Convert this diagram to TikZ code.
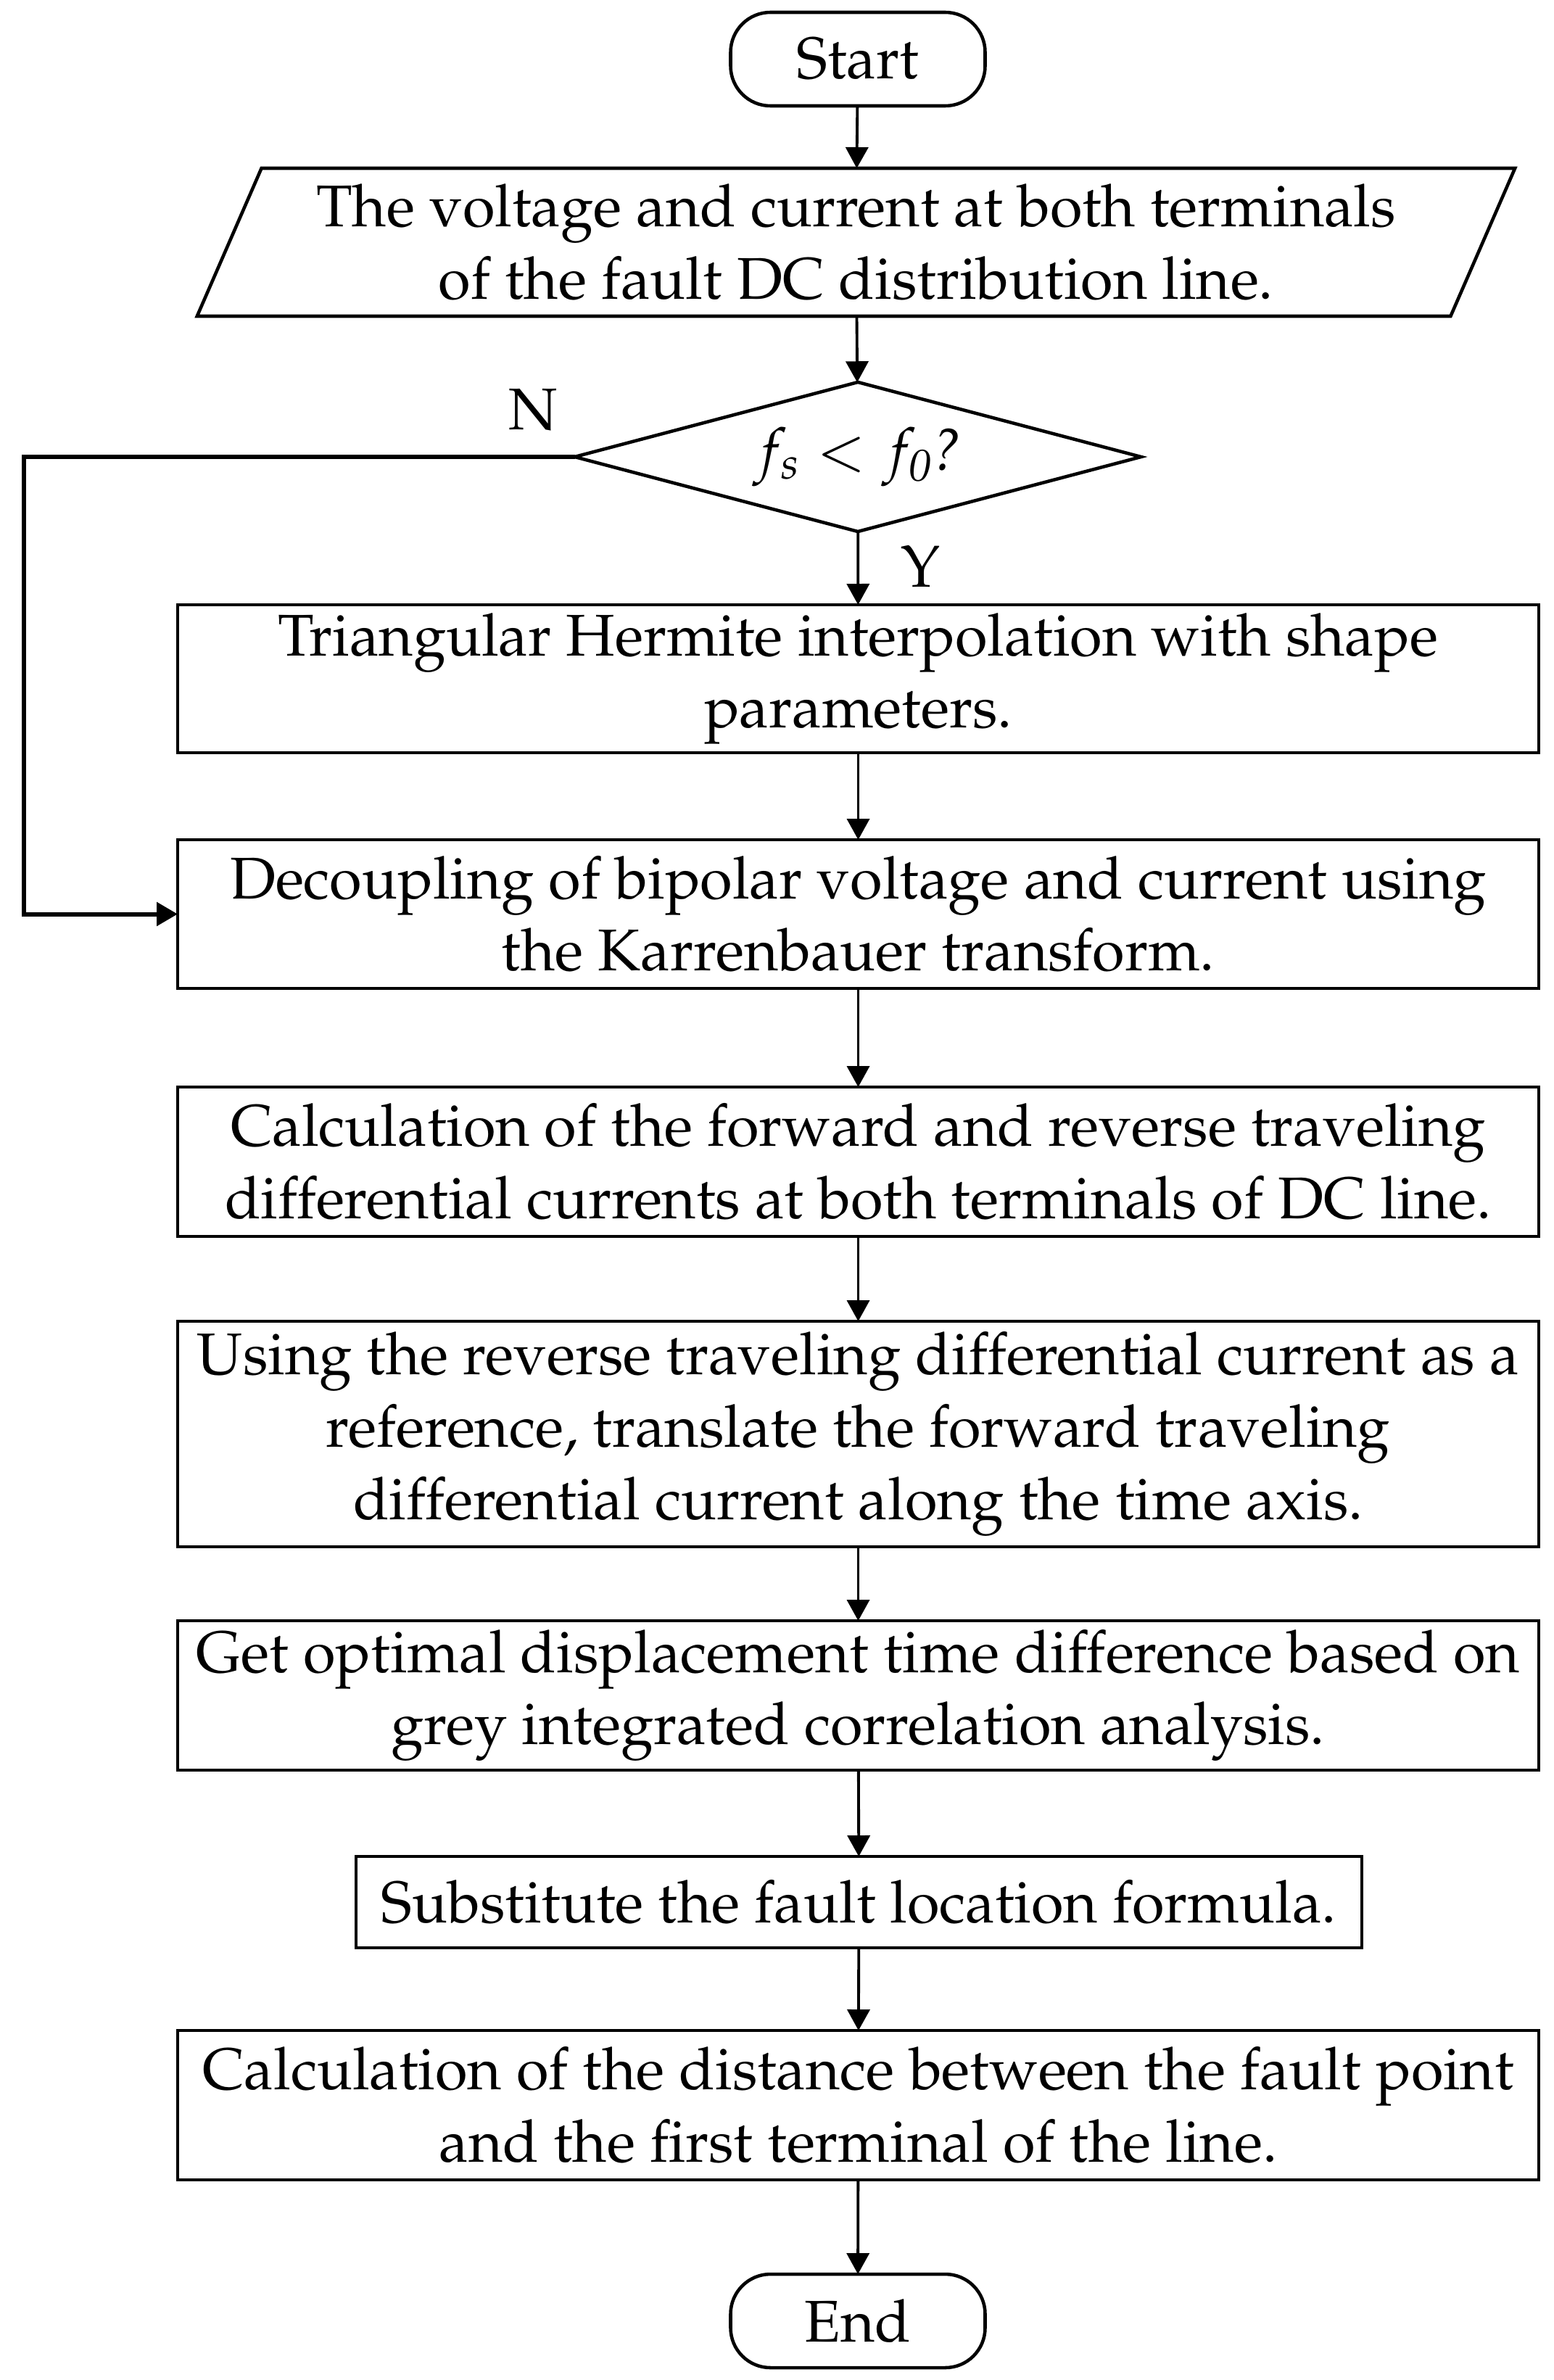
\documentclass[tikz,border=0pt]{standalone}
\usepackage[T1]{fontenc}
\usepackage{mathpazo}
\usetikzlibrary{arrows.meta,shapes.geometric}
\begin{document}
\begin{tikzpicture}[
  every node/.style={inner sep=0pt, outer sep=0pt, font=\fontsize{23.1}{28.4}\selectfont, align=center},
  proc/.style={draw, line width=1.3pt, rectangle, minimum width=18.77cm},
  term/.style={draw, line width=1.3pt, rectangle, rounded corners=0.55cm, minimum width=3.51cm, minimum height=1.29cm},
  conn/.style={line width=1.1pt, -{Triangle[length=0.29cm,width=0.31cm]}},
  fback/.style={line width=1.7pt, -{Triangle[length=0.29cm,width=0.32cm]}}
]
\useasboundingbox (0,0) rectangle (21.43,-32.82);
\node[term] (start) at (11.83,-0.815) {Start};
\node[draw, line width=1.3pt, trapezium, trapezium left angle=63.3, trapezium right angle=116.7, trapezium stretches=true, minimum width=18.25cm, minimum height=2.04cm] (input) at (11.805,-3.34) {The voltage and current at both terminals\\ of the fault DC distribution line.};
\node[draw, line width=1.3pt, diamond, aspect=3.79, minimum width=7.81cm, minimum height=2.06cm] (dec) at (11.83,-6.30) {$f_s<f_{\mathit{0}}$\textit{?}};
\node[proc, minimum height=2.04cm] (b1) at (11.835,-9.36) {Triangular Hermite interpolation with shape\\ parameters.};
\node[proc, minimum height=2.05cm] (b2) at (11.835,-12.605) {Decoupling of bipolar voltage and current using\\ the Karrenbauer transform.};
\node[proc, minimum height=2.06cm] (b3) at (11.835,-16.02) {Calculation of the forward and reverse traveling\\ differential currents at both terminals of DC line.};
\node[proc, minimum height=3.11cm] (b4) at (11.835,-19.775) {Using the reverse traveling differential current as a\\ reference, translate the forward traveling\\ differential current along the time axis.};
\node[proc, minimum height=2.06cm] (b5) at (11.835,-23.38) {Get optimal displacement time difference based on\\ grey integrated correlation analysis.};
\node[proc, minimum width=13.87cm, minimum height=1.26cm] (b6) at (11.845,-26.23) {Substitute the fault location formula.};
\node[proc, minimum height=2.06cm] (b7) at (11.835,-29.03) {Calculation of the distance between the fault point\\ and the first terminal of the line.};
\node[term] (end) at (11.83,-32.005) {End};
\node (nlab) at (7.35,-5.65) {N};
\node (ylab) at (12.70,-7.81) {Y};
\coordinate (fb) at (0.33,-6.30);
\draw[conn] (start) -- (input);
\draw[conn] (input) -- (dec);
\draw[conn] (dec) -- (b1);
\draw[conn] (b1) -- (b2);
\draw[conn] (b2) -- (b3);
\draw[conn] (b3) -- (b4);
\draw[conn] (b4) -- (b5);
\draw[conn] (b5) -- (b6);
\draw[conn] (b6) -- (b7);
\draw[conn] (b7) -- (end);
\draw[fback] (dec.west) -- (fb) |- (b2.west);
\end{tikzpicture}
\end{document}
